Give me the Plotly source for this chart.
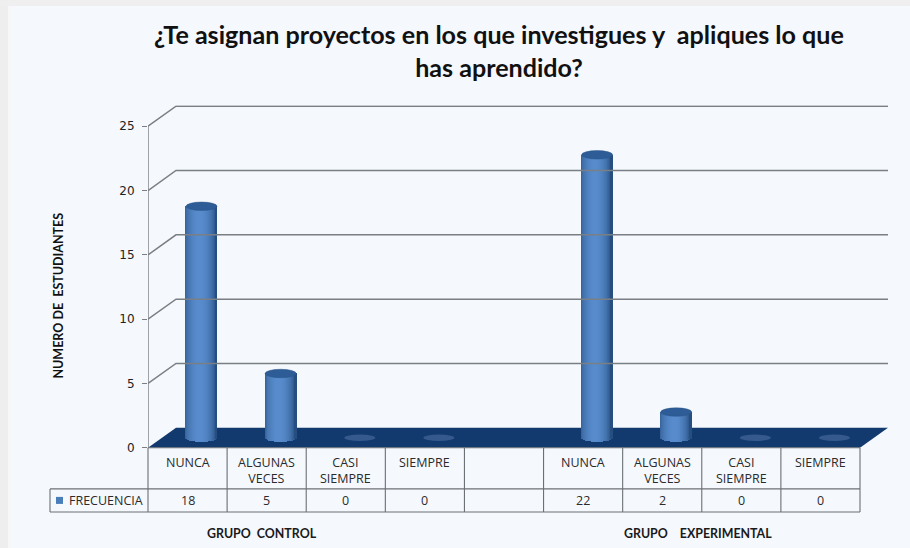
import math
import plotly.graph_objects as go

# ---- data ----
y_ticks = [0, 5, 10, 15, 20, 25]
categories = ["NUNCA", "ALGUNAS<br>VECES", "CASI<br>SIEMPRE", "SIEMPRE", "",
              "NUNCA", "ALGUNAS<br>VECES", "CASI<br>SIEMPRE", "SIEMPRE"]
values = [18, 5, 0, 0, None, 22, 2, 0, 0]
title_text = "¿Te asignan proyectos en los que investigues y  apliques lo que<br>has aprendido?"
y_title = "NUMERO DE  ESTUDIANTES"
legend_name = "FRECUENCIA"
group_labels = ["GRUPO  CONTROL", "GRUPO    EXPERIMENTAL"]

# ---- layout helpers (pixel geometry of the frame) ----
W, H = 910, 548
H_EFF = 548
AX_L, TBL_R, AX_R = 148, 860, 888
Y0_PX, Y25_PX, AX_T = 447, 126, 105
LEG_L, ROW1, ROW2 = 50, 488, 511
px_per_unit = (Y0_PX - Y25_PX) / 25
cell = (TBL_R - AX_L) / len(categories)
dx = (AX_R - TBL_R) / cell          # depth offset in x units
dy = 20 / px_per_unit               # depth offset in y units
xmin, xmax = -0.5, len(categories) - 0.5 + dx
ymax = (Y0_PX - AX_T) / px_per_unit
BAR_W = 31 / cell
ELL_H = 4.2 / px_per_unit
ELL_H0 = 3.2 / px_per_unit
N_STRIPS = 32

def px(x): return x / W
def py(y): return 1 - y / H_EFF

GRID = "#7a7f85"
fig = go.Figure()

shapes = []
# background
shapes.append(dict(type="rect", xref="paper", yref="paper", x0=0, x1=px(8), y0=0, y1=1,
                   fillcolor="#eeeeee", line_width=0, layer="below"))
shapes.append(dict(type="rect", xref="paper", yref="paper", x0=px(8), x1=px(11), y0=0, y1=1,
                   fillcolor="#f7f7f7", line_width=0, layer="below"))
shapes.append(dict(type="rect", xref="paper", yref="paper", x0=0, x1=1, y0=py(6), y1=1,
                   fillcolor="#efefef", line_width=0, layer="below"))
# floor
floor = (f"M {xmin} 0 L {xmin+dx} {dy} L {xmin+dx+len(categories)} {dy} "
         f"L {xmin+len(categories)} 0 Z")
shapes.append(dict(type="path", xref="x", yref="y", path=floor, fillcolor="#123a6e",
                   line_width=0, layer="below"))

# grid lines (front slant + back wall)
for t in y_ticks[1:]:
    fig.add_trace(go.Scatter(x=[xmin, xmin + dx, xmax], y=[t, t + dy, t + dy], mode="lines",
                             line=dict(color=GRID, width=1.5), hoverinfo="skip", showlegend=False))
# vertical axis line
fig.add_trace(go.Scatter(x=[xmin, xmin], y=[0, y_ticks[-1]], mode="lines",
                         line=dict(color=GRID, width=1.4), hoverinfo="skip", showlegend=False))

# cylinders: thin vertical strips shaded across the width
def shade(u):
    # u in [-1,1]; highlight a little left of centre
    k = max(0.0, math.cos((u + 0.1) * math.pi / 2)) ** 0.6
    dark, light = (38, 78, 128), (88, 140, 205)
    return "rgb(%d,%d,%d)" % tuple(dark[i] + (light[i] - dark[i]) * k for i in range(3))

xs = [i + dx / 2 for i in range(len(categories))]
mid = dy / 2
sw = BAR_W / N_STRIPS
for s in range(N_STRIPS):
    u = -1 + (2 * s + 1) / N_STRIPS
    arc = ELL_H * math.sqrt(max(0, 1 - u * u))
    heights = [(v + arc) if v else 0 for v in [x or 0 for x in values]]
    bases = [mid - arc] * len(values)
    fig.add_trace(go.Bar(x=xs, y=heights, base=bases, width=sw * 1.25,
                         offset=[u * BAR_W / 2 - sw * 0.6] * len(values),
                         marker=dict(color=shade(u), line_width=0),
                         hoverinfo="skip", showlegend=False))

# cylinder caps
for x, v in zip(xs, values):
    if v is None:
        continue
    if v > 0:
        shapes.append(dict(type="circle", xref="x", yref="y",
                           x0=x - BAR_W / 2, x1=x + BAR_W / 2,
                           y0=mid + v - ELL_H, y1=mid + v + ELL_H,
                           fillcolor="#2d5c96", line=dict(color="#2a5488", width=0.5), layer="above"))
    else:
        shapes.append(dict(type="circle", xref="x", yref="y",
                           x0=x - BAR_W / 2, x1=x + BAR_W / 2,
                           y0=mid - ELL_H0, y1=mid + ELL_H0,
                           fillcolor="#35598c", line_width=0, layer="above"))

# data table lines
TBL = "#6b7075"
def hline(y, a, b):
    return dict(type="line", xref="paper", yref="paper", x0=px(a), x1=px(b), y0=py(y), y1=py(y),
                line=dict(color=TBL, width=1.1))
shapes += [hline(Y0_PX, AX_L, TBL_R), hline(ROW1, LEG_L, TBL_R), hline(ROW2, LEG_L, TBL_R)]
for i in range(len(categories) + 1):
    xx = AX_L + i * cell
    shapes.append(dict(type="line", xref="paper", yref="paper", x0=px(xx), x1=px(xx),
                       y0=py(Y0_PX), y1=py(ROW2), line=dict(color=TBL, width=1.1)))
shapes.append(dict(type="line", xref="paper", yref="paper", x0=px(LEG_L), x1=px(LEG_L),
                   y0=py(ROW1), y1=py(ROW2), line=dict(color=TBL, width=1.1)))
# legend key
shapes.append(dict(type="rect", xref="paper", yref="paper", x0=px(56), x1=px(63),
                   y0=py(503), y1=py(496), fillcolor="#4a7ebb", line_width=0))

TFONT = dict(family="Open Sans", size=12.5, color="#2b2b2b")
ann = []
for i, (c, v) in enumerate(zip(categories, values)):
    if c:
        ann.append(dict(x=i, y=py(Y0_PX + 4), xref="x", yref="paper", text=c, showarrow=False,
                        xanchor="center", yanchor="top", font=TFONT, align="center"))
    if v is not None:
        ann.append(dict(x=i, y=py((ROW1 + ROW2) / 2), xref="x", yref="paper", text=str(v),
                        showarrow=False, xanchor="center", yanchor="middle", font=TFONT))
ann.append(dict(x=px(67), y=py((ROW1 + ROW2) / 2), xref="paper", yref="paper", text=legend_name,
                showarrow=False, xanchor="left", yanchor="middle", font=TFONT))
BFONT = dict(family="Lato", size=12.4, color="#1a1a1a", weight="bold")
ann.append(dict(x=px(262), y=py(533), xref="paper", yref="paper", text=group_labels[0],
                showarrow=False, xanchor="center", yanchor="middle", font=BFONT))
ann.append(dict(x=px(698), y=py(533), xref="paper", yref="paper", text=group_labels[1],
                showarrow=False, xanchor="center", yanchor="middle", font=BFONT))
ann.append(dict(x=px(59), y=py(295), xref="paper", yref="paper", text=y_title, textangle=-90,
                showarrow=False, xanchor="center", yanchor="middle",
                font=dict(family="Lato", size=12.5, color="#111111", weight="bold")))
ann.append(dict(x=px(499), y=py(50), xref="paper", yref="paper", text=title_text, showarrow=False,
                xanchor="center", yanchor="middle",
                align="center", font=dict(family="Lato", size=25.1, color="#111111", weight="bold")))

fig.update_layout(
    width=W, height=H + 8, autosize=False,
    margin=dict(l=0, r=0, t=0, b=0),
    paper_bgcolor="#f5f8fd", plot_bgcolor="rgba(0,0,0,0)",
    barmode="overlay", bargap=0,
    shapes=shapes, annotations=ann, showlegend=False,
    xaxis=dict(domain=[px(AX_L), px(AX_R)], range=[xmin, xmax], visible=False, fixedrange=True),
    yaxis=dict(domain=[py(Y0_PX), py(AX_T)], range=[0, ymax], tickvals=y_ticks,
               showgrid=False, zeroline=False, showline=False, ticks="outside", ticklen=5,
               ticklabelstandoff=5,
               tickcolor=GRID, tickwidth=1.2, tickfont=dict(family="DejaVu Sans", size=12, color="#222222"),
               fixedrange=True, anchor="x"),
)
fig.write_html("out.html", config=dict(displayModeBar=False, responsive=False),
               post_script="document.body.style.margin='0';")
